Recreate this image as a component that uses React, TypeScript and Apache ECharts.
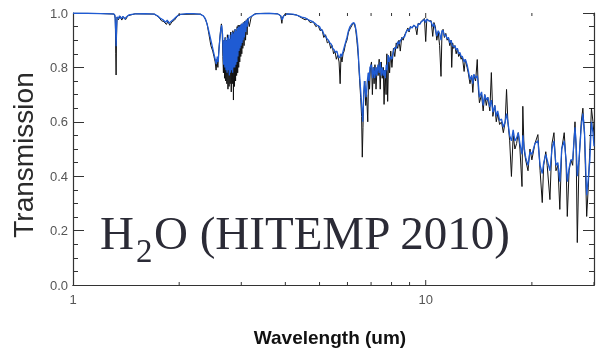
import React, { useEffect, useRef } from "react";
import * as echarts from "echarts";

// Wavelength (um) / transmission pairs
const blackSpectrum: [number, number][] = [
  [1.0, 0.999], [1.2, 0.998], [1.31, 0.996], [1.318, 0.98], [1.322, 0.85], [1.325, 0.772], [1.328, 0.9], [1.333, 0.985],
  [1.345, 0.975], [1.36, 0.988], [1.375, 0.974], [1.39, 0.986], [1.41, 0.976], [1.43, 0.99], [1.5, 0.997], [1.7, 0.996],
  [1.75, 0.985], [1.78, 0.972], [1.81, 0.968], [1.84, 0.958], [1.86, 0.97], [1.88, 0.955], [1.91, 0.968], [1.94, 0.974],
  [1.97, 0.986], [2.0, 0.995], [2.3, 0.996],
  [2.36, 0.985], [2.4, 0.96], [2.43, 0.92], [2.46, 0.88], [2.49, 0.86], [2.51, 0.84], [2.53, 0.82], [2.545, 0.79],
  [2.56, 0.83], [2.575, 0.8], [2.59, 0.86], [2.605, 0.9], [2.62, 0.935], [2.635, 0.96], [2.65, 0.92], [2.66, 0.84],
  [2.67, 0.78], [2.68, 0.9], [2.69, 0.76], [2.7, 0.91], [2.71, 0.75], [2.72, 0.9], [2.73, 0.74], [2.74, 0.92],
  [2.75, 0.72], [2.76, 0.91], [2.77, 0.73], [2.78, 0.9], [2.79, 0.74], [2.8, 0.93], [2.81, 0.71], [2.82, 0.92],
  [2.83, 0.74], [2.84, 0.935], [2.85, 0.68], [2.86, 0.93], [2.87, 0.73], [2.88, 0.94], [2.89, 0.75], [2.9, 0.935],
  [2.91, 0.77], [2.92, 0.95], [2.93, 0.78], [2.94, 0.955], [2.95, 0.8], [2.96, 0.955], [2.97, 0.82], [2.98, 0.955],
  [2.99, 0.84], [3.0, 0.96], [3.01, 0.85], [3.02, 0.96], [3.03, 0.87], [3.04, 0.965], [3.055, 0.88], [3.07, 0.97],
  [3.085, 0.9], [3.1, 0.975], [3.115, 0.92], [3.13, 0.98], [3.16, 0.95], [3.2, 0.985], [3.26, 0.995], [3.3, 0.998],
  [3.5, 0.999], [3.8, 0.997], [3.88, 0.99], [3.91, 0.962], [3.93, 0.985], [4.0, 0.997], [4.3, 0.993], [4.45, 0.982],
  [4.55, 0.975], [4.62, 0.978], [4.7, 0.965], [4.8, 0.968], [4.88, 0.95], [4.95, 0.955], [5.02, 0.935], [5.08, 0.94],
  [5.14, 0.91], [5.2, 0.92], [5.26, 0.89], [5.32, 0.895], [5.38, 0.87], [5.43, 0.88], [5.48, 0.85], [5.53, 0.86],
  [5.58, 0.83], [5.63, 0.845], [5.68, 0.82], [5.72, 0.74], [5.75, 0.84], [5.79, 0.82], [5.83, 0.85], [5.87, 0.86],
  [5.92, 0.885], [5.98, 0.9], [6.04, 0.93], [6.12, 0.945], [6.2, 0.958], [6.27, 0.962], [6.33, 0.94], [6.38, 0.9],
  [6.44, 0.84], [6.49, 0.76], [6.54, 0.69], [6.58, 0.62], [6.61, 0.47], [6.64, 0.58], [6.67, 0.7], [6.72, 0.75],
  [6.76, 0.66], [6.8, 0.7], [6.85, 0.6], [6.89, 0.78], [6.93, 0.72], [6.97, 0.8], [7.02, 0.82], [7.06, 0.7],
  [7.1, 0.8], [7.14, 0.74], [7.18, 0.81], [7.23, 0.72], [7.28, 0.8], [7.33, 0.77], [7.38, 0.83], [7.43, 0.72],
  [7.48, 0.82], [7.53, 0.76], [7.58, 0.8], [7.62, 0.664], [7.67, 0.79], [7.72, 0.7], [7.76, 0.85], [7.8, 0.675],
  [7.85, 0.84], [7.9, 0.78], [7.96, 0.86], [8.02, 0.8], [8.1, 0.87], [8.17, 0.84], [8.25, 0.89], [8.33, 0.87],
  [8.4, 0.9], [8.47, 0.86], [8.55, 0.91], [8.63, 0.9], [8.72, 0.92], [8.8, 0.93], [8.9, 0.945], [8.97, 0.93],
  [9.05, 0.95], [9.15, 0.945], [9.25, 0.955], [9.35, 0.95], [9.44, 0.92], [9.52, 0.962], [9.62, 0.96], [9.72, 0.97],
  [9.82, 0.975], [9.92, 0.98], [10.0, 0.895], [10.07, 0.978], [10.17, 0.975], [10.26, 0.97], [10.36, 0.972],
  [10.47, 0.914], [10.55, 0.965], [10.65, 0.95], [10.75, 0.9], [10.85, 0.93], [10.95, 0.88], [11.05, 0.767],
  [11.12, 0.93], [11.2, 0.94], [11.3, 0.91], [11.4, 0.925], [11.5, 0.9], [11.6, 0.91], [11.7, 0.88], [11.8, 0.9],
  [11.85, 0.8], [11.92, 0.89], [12.0, 0.87], [12.1, 0.88], [12.2, 0.85], [12.3, 0.87], [12.4, 0.84], [12.5, 0.85],
  [12.6, 0.83], [12.7, 0.84], [12.85, 0.785], [12.95, 0.83], [13.1, 0.8], [13.2, 0.78], [13.35, 0.74], [13.5, 0.77],
  [13.6, 0.708], [13.7, 0.77], [13.85, 0.75], [14.0, 0.829], [14.1, 0.72], [14.2, 0.67], [14.4, 0.7], [14.55, 0.64],
  [14.7, 0.7], [14.85, 0.66], [15.0, 0.69], [15.2, 0.64], [15.35, 0.781], [15.5, 0.62], [15.7, 0.66], [15.85, 0.6],
  [16.0, 0.63], [16.2, 0.59], [16.4, 0.6], [16.6, 0.56], [16.8, 0.6], [16.95, 0.719], [17.1, 0.6], [17.3, 0.53],
  [17.5, 0.399], [17.7, 0.55], [17.9, 0.5], [18.1, 0.52], [18.3, 0.56], [18.5, 0.5], [18.75, 0.362], [18.85, 0.657],
  [19.0, 0.5], [19.2, 0.46], [19.5, 0.42], [19.75, 0.5], [20.0, 0.46], [20.4, 0.52], [20.8, 0.553], [21.1, 0.42],
  [21.4, 0.303], [21.6, 0.44], [21.9, 0.49], [22.1, 0.44], [22.5, 0.314], [22.8, 0.52], [23.1, 0.56], [23.4, 0.42],
  [23.7, 0.44], [24.0, 0.278], [24.3, 0.5], [24.7, 0.56], [25.0, 0.45], [25.2, 0.252], [25.5, 0.42], [25.8, 0.46],
  [26.1, 0.44], [26.5, 0.6], [26.7, 0.5], [26.9, 0.156], [27.2, 0.45], [27.6, 0.6], [27.9, 0.65], [28.2, 0.55],
  [28.6, 0.252], [28.9, 0.36], [29.2, 0.5], [29.5, 0.65], [29.8, 0.6], [30.0, 0.55],
];

const blueSpectrum: [number, number][] = [
  [1.0, 0.999], [1.1, 0.999], [1.2, 0.998], [1.3, 0.997], [1.315, 0.992], [1.322, 0.93], [1.325, 0.878], [1.329, 0.95],
  [1.334, 0.986], [1.345, 0.98], [1.355, 0.99], [1.37, 0.979], [1.385, 0.988], [1.4, 0.978], [1.42, 0.986],
  [1.44, 0.993], [1.5, 0.997], [1.6, 0.998], [1.7, 0.996], [1.74, 0.989], [1.77, 0.98], [1.8, 0.975], [1.83, 0.966],
  [1.85, 0.974], [1.87, 0.962], [1.9, 0.97], [1.93, 0.977], [1.96, 0.985], [2.0, 0.994], [2.1, 0.998], [2.2, 0.998],
  [2.3, 0.995], [2.34, 0.99], [2.38, 0.975], [2.41, 0.95], [2.44, 0.92], [2.47, 0.89], [2.49, 0.87], [2.51, 0.85],
  [2.53, 0.83], [2.55, 0.812], [2.565, 0.84], [2.58, 0.82], [2.595, 0.87], [2.61, 0.91], [2.625, 0.94], [2.64, 0.955],
  [2.655, 0.92], [2.665, 0.86], [2.675, 0.81], [2.685, 0.9], [2.695, 0.8], [2.705, 0.91], [2.715, 0.79], [2.725, 0.9],
  [2.735, 0.78], [2.745, 0.91], [2.755, 0.79], [2.765, 0.92], [2.775, 0.77], [2.785, 0.905], [2.795, 0.78],
  [2.805, 0.92], [2.815, 0.79], [2.825, 0.93], [2.835, 0.78], [2.845, 0.925], [2.855, 0.8], [2.865, 0.93],
  [2.875, 0.8], [2.885, 0.94], [2.895, 0.81], [2.905, 0.935], [2.915, 0.82], [2.925, 0.945], [2.935, 0.84],
  [2.945, 0.95], [2.955, 0.86], [2.965, 0.95], [2.975, 0.87], [2.985, 0.955], [2.995, 0.88], [3.005, 0.96],
  [3.015, 0.89], [3.025, 0.96], [3.035, 0.9], [3.045, 0.965], [3.06, 0.91], [3.075, 0.97], [3.09, 0.93],
  [3.105, 0.975], [3.12, 0.95], [3.14, 0.98], [3.18, 0.985], [3.24, 0.992], [3.3, 0.997], [3.4, 0.998], [3.6, 0.999],
  [3.8, 0.997], [3.88, 0.99], [3.92, 0.975], [3.96, 0.99], [4.05, 0.997], [4.2, 0.996], [4.35, 0.99], [4.45, 0.985],
  [4.55, 0.982], [4.65, 0.975], [4.75, 0.97], [4.85, 0.962], [4.92, 0.955], [5.0, 0.95], [5.05, 0.938], [5.1, 0.935],
  [5.15, 0.92], [5.2, 0.915], [5.25, 0.905], [5.3, 0.9], [5.35, 0.89], [5.4, 0.885], [5.45, 0.87], [5.5, 0.865],
  [5.55, 0.855], [5.6, 0.86], [5.65, 0.84], [5.7, 0.835], [5.74, 0.85], [5.78, 0.84], [5.82, 0.855], [5.86, 0.87],
  [5.92, 0.89], [5.98, 0.91], [6.04, 0.935], [6.1, 0.95], [6.18, 0.96], [6.25, 0.965], [6.3, 0.958], [6.36, 0.93],
  [6.42, 0.88], [6.47, 0.8], [6.52, 0.74], [6.56, 0.69], [6.6, 0.64], [6.63, 0.6], [6.66, 0.67], [6.7, 0.75],
  [6.74, 0.72], [6.78, 0.69], [6.82, 0.74], [6.87, 0.78], [6.91, 0.75], [6.95, 0.8], [7.02, 0.81], [7.07, 0.76],
  [7.12, 0.8], [7.17, 0.76], [7.22, 0.8], [7.27, 0.77], [7.32, 0.81], [7.38, 0.78], [7.43, 0.82], [7.48, 0.77],
  [7.53, 0.8], [7.58, 0.77], [7.63, 0.79], [7.68, 0.76], [7.73, 0.81], [7.78, 0.79], [7.83, 0.845], [7.88, 0.82],
  [7.95, 0.84], [8.02, 0.83], [8.1, 0.86], [8.17, 0.873], [8.25, 0.87], [8.33, 0.895], [8.4, 0.885], [8.48, 0.9],
  [8.55, 0.905], [8.63, 0.91], [8.72, 0.914], [8.8, 0.93], [8.9, 0.94], [8.97, 0.935], [9.05, 0.95], [9.15, 0.945],
  [9.25, 0.955], [9.35, 0.95], [9.45, 0.945], [9.52, 0.96], [9.62, 0.958], [9.72, 0.968], [9.82, 0.972],
  [9.92, 0.976], [10.0, 0.965], [10.07, 0.977], [10.17, 0.972], [10.26, 0.97], [10.36, 0.968], [10.47, 0.95],
  [10.55, 0.96], [10.65, 0.94], [10.75, 0.915], [10.85, 0.935], [10.95, 0.925], [11.05, 0.9], [11.12, 0.935],
  [11.2, 0.935], [11.3, 0.915], [11.4, 0.92], [11.5, 0.905], [11.6, 0.91], [11.7, 0.89], [11.8, 0.9], [11.9, 0.88],
  [12.0, 0.875], [12.1, 0.88], [12.2, 0.865], [12.3, 0.87], [12.4, 0.85], [12.5, 0.855], [12.6, 0.84], [12.7, 0.84],
  [12.85, 0.82], [12.95, 0.83], [13.1, 0.81], [13.2, 0.79], [13.35, 0.756], [13.5, 0.77], [13.6, 0.74],
  [13.7, 0.775], [13.85, 0.76], [14.0, 0.77], [14.1, 0.74], [14.2, 0.69], [14.4, 0.71], [14.55, 0.66], [14.7, 0.7],
  [14.85, 0.68], [15.0, 0.69], [15.2, 0.655], [15.35, 0.68], [15.5, 0.635], [15.7, 0.66], [15.85, 0.62], [16.0, 0.64],
  [16.2, 0.605], [16.4, 0.61], [16.6, 0.58], [16.8, 0.6], [16.95, 0.63], [17.1, 0.6], [17.3, 0.55], [17.5, 0.53],
  [17.7, 0.57], [17.9, 0.53], [18.1, 0.54], [18.3, 0.56], [18.5, 0.52], [18.75, 0.48], [18.85, 0.55], [19.0, 0.51],
  [19.2, 0.47], [19.5, 0.44], [19.75, 0.49], [20.0, 0.48], [20.4, 0.52], [20.8, 0.53], [21.1, 0.44], [21.4, 0.41],
  [21.6, 0.45], [21.9, 0.48], [22.1, 0.46], [22.5, 0.42], [22.8, 0.5], [23.1, 0.53], [23.4, 0.44], [23.7, 0.45],
  [24.0, 0.38], [24.3, 0.5], [24.7, 0.53], [25.0, 0.46], [25.2, 0.38], [25.5, 0.43], [25.8, 0.46], [26.1, 0.46],
  [26.5, 0.58], [26.7, 0.52], [26.9, 0.4], [27.2, 0.46], [27.6, 0.58], [27.9, 0.63], [28.2, 0.56], [28.6, 0.33],
  [28.9, 0.39], [29.2, 0.46], [29.5, 0.6], [29.8, 0.56], [30.0, 0.51],
];

const xLabelValues = [1, 10];
const xMinorTicks = [2, 3, 4, 5, 6, 7, 8, 9, 20, 30];
const xMajorTicks = [10];
const xRange = [1, 30];
const yRange = [0, 1];
const yInterval = 0.2;

const titleMain = "H";
const titleSub = "2";
const titleRest = "O (HITEMP 2010)";
const yName = "Transmission";
const xName = "Wavelength (um)";

const AXIS = "#333333";
const SANS = "'Liberation Sans', Arial, sans-serif";
const SERIF = "'Liberation Serif', 'Times New Roman', serif";

export default function App() {
  const ref = useRef<HTMLDivElement>(null);
  useEffect(() => {
    if (!ref.current) return;
    const chart = echarts.init(ref.current, null, { renderer: "svg" });
    const tickData = [
      ...xMinorTicks.map((v) => [v, 3]),
      ...xMajorTicks.map((v) => [v, 5]),
    ];
    const baseX = {
      type: "log" as const,
      logBase: 10,
      min: xRange[0],
      max: xRange[1],
      splitLine: { show: false },
      axisTick: { show: false },
      minorTick: { show: false },
      axisLine: { show: true, lineStyle: { color: AXIS, width: 1.2 } },
    };
    const baseY = {
      type: "value" as const,
      min: yRange[0],
      max: yRange[1],
      interval: yInterval,
      splitLine: { show: false },
      axisLine: { show: true, lineStyle: { color: AXIS, width: 1.2 } },
      axisTick: { show: true, inside: true, length: 11, lineStyle: { color: AXIS } },
      minorTick: { show: true, splitNumber: 4, length: 5, lineStyle: { color: AXIS } },
    };
    chart.setOption({
      animation: false,
      grid: { left: 73, top: 13, right: 2, bottom: 64, containLabel: false },
      xAxis: [
        {
          ...baseX,
          position: "bottom",
          axisLabel: {
            show: true,
            margin: 8,
            fontSize: 13,
            color: "#555",
            fontFamily: SANS,
            formatter: (v: number) => (xLabelValues.some((l) => Math.abs(l - v) < 1e-6) ? String(v) : ""),
          },
        },
        { ...baseX, position: "top", axisLabel: { show: false } },
      ],
      yAxis: [
        {
          ...baseY,
          position: "left",
          axisLabel: {
            show: true,
            margin: 5,
            fontSize: 13,
            color: "#555",
            fontFamily: SANS,
            formatter: (v: number) => v.toFixed(1),
          },
        },
        { ...baseY, position: "right", axisLabel: { show: false } },
      ],
      series: [
        {
          type: "line",
          data: blackSpectrum,
          showSymbol: false,
          lineStyle: { color: "#111", width: 1 },
          z: 2,
        },
        {
          type: "line",
          data: blueSpectrum,
          showSymbol: false,
          lineStyle: { color: "#1f5bd3", width: 1.3 },
          z: 3,
        },
        {
          type: "custom",
          data: tickData,
          clip: false,
          z: 4,
          renderItem: (params: any, api: any) => {
            const v = api.value(0);
            const len = api.value(1);
            const b = api.coord([v, yRange[0]]);
            const t = api.coord([v, yRange[1]]);
            return {
              type: "group",
              children: [
                { type: "line", shape: { x1: b[0], y1: b[1], x2: b[0], y2: b[1] - len }, style: { stroke: AXIS, lineWidth: 1 } },
                { type: "line", shape: { x1: t[0], y1: t[1], x2: t[0], y2: t[1] + len }, style: { stroke: AXIS, lineWidth: 1 } },
              ],
            };
          },
        },
      ],
      graphic: [
        {
          type: "text",
          x: 23,
          y: 155,
          rotation: Math.PI / 2,
          style: { text: yName, font: `28px ${SANS}`, fill: "#2a2a2a", align: "center", verticalAlign: "middle" },
        },
        {
          type: "text",
          x: 330,
          y: 337,
          style: { text: xName, font: `bold 19px ${SANS}`, fill: "#111", align: "center", verticalAlign: "middle" },
        },
        {
          type: "text",
          x: 100,
          y: 233,
          style: { text: titleMain, font: `47px ${SERIF}`, fill: "#2b2b36", align: "left", verticalAlign: "middle" },
        },
        {
          type: "text",
          x: 136,
          y: 251,
          style: { text: titleSub, font: `33px ${SERIF}`, fill: "#2b2b36", align: "left", verticalAlign: "middle" },
        },
        {
          type: "text",
          x: 154,
          y: 233,
          style: { text: titleRest, font: `47px ${SERIF}`, fill: "#2b2b36", align: "left", verticalAlign: "middle" },
        },
      ],
    });
    return () => chart.dispose();
  }, []);
  return <div ref={ref} style={{ position: "fixed", left: 0, top: 0, width: 597, height: 349 }} />;
}
